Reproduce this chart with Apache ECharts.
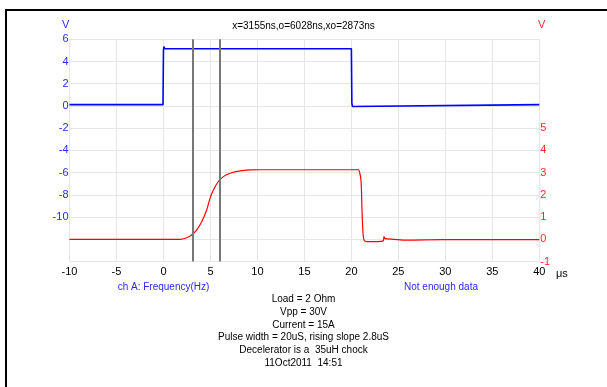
<!DOCTYPE html>
<html><head><meta charset="utf-8">
<script src="https://cdn.jsdelivr.net/npm/echarts@6/dist/echarts.min.js"></script>
<style>html,body{margin:0;padding:0;background:#fff}#c{width:607px;height:387px}</style>
</head><body><div id="c"></div>
<script>
// Time axis (µs)
const xTicks = [-10, -5, 0, 5, 10, 15, 20, 25, 30, 35, 40];
const leftTicks = [6, 4, 2, 0, -2, -4, -6, -8, -10];
const rightTicks = [5, 4, 3, 2, 1, 0, -1];
// Channel A (blue, left axis V)
const blueX = [-10, -0.05, 0, 0.05, 0.15, 0.4, 20.0, 20.05, 20.1, 20.3, 40];
const blueY = [0.12, 0.12, 5.0, 5.35, 5.15, 5.15, 5.15, 0.3, -0.05, 0.12, 0.12];
// Channel B (red, right axis V)
const redX = [-10, 1.76, 2.47, 3.0, 3.54, 4.07, 4.6, 4.96, 5.31, 5.84, 6.38, 7.09, 8.16, 9.2, 10.3, 20.8, 20.87, 21.02, 21.13, 21.24, 21.37, 21.66, 23.37, 23.47, 23.6, 24.5, 25.9, 29.5, 40];
const redY = [0.0, 0.0, 0.07, 0.19, 0.42, 0.79, 1.32, 1.85, 2.22, 2.6, 2.82, 2.97, 3.08, 3.12, 3.13, 3.13, 3.12, 2.67, 1.32, 0.27, -0.06, -0.11, -0.08, 0.12, 0.03, 0.0, -0.04, -0.02, -0.02];
// Cursors
const cursors = [3.155, 6.028];
const titleText = 'x=3155ns,o=6028ns,xo=2873ns';
const notes = ['Load = 2 Ohm', 'Vpp = 30V', 'Current = 15A', 'Pulse width = 20uS, rising slope 2.8uS', 'Decelerator is a  35uH chock', '11Oct2011  14:51'];

const FONT = 'Liberation Sans, Arial, sans-serif';
const zip = (a, b) => a.map((v, i) => [v, b[i]]);
const chart = echarts.init(document.getElementById('c'), null, {renderer: 'canvas'});
const noteGraphics = notes.map((t, i) => ({
  type: 'text', left: 'center', top: 294 + i * 12.9,
  style: {text: t, font: '10px ' + FONT, fill: '#000', textAlign: 'center'}
}));
chart.setOption({
  animation: false,
  backgroundColor: '#fff',
  grid: {left: 69.5, top: 39.3, width: 469.8, height: 222.2, containLabel: false},
  xAxis: {
    type: 'value', min: -10, max: 40, interval: 5,
    axisLine: {show: false}, axisTick: {show: false},
    axisLabel: {color: '#000', fontSize: 11, fontFamily: FONT, margin: 5},
    splitLine: {show: true, lineStyle: {color: '#e6e6e6', width: 1}}
  },
  yAxis: [{
    type: 'value', min: -14, max: 6, interval: 2, position: 'left',
    axisLine: {show: false}, axisTick: {show: false},
    axisLabel: {color: '#2a2aff', fontSize: 11, fontFamily: FONT, margin: 1,
      formatter: v => leftTicks.includes(v) ? String(v) : ''},
    splitLine: {show: true, lineStyle: {color: '#e6e6e6', width: 1}}
  }, {
    type: 'value', min: -1, max: 9, interval: 1, position: 'right',
    axisLine: {show: false}, axisTick: {show: false},
    axisLabel: {color: '#ff2a2a', fontSize: 11, fontFamily: FONT, margin: 1,
      formatter: v => rightTicks.includes(v) ? String(v) : ''},
    splitLine: {show: false}
  }],
  series: [{
    type: 'line', yAxisIndex: 1, data: zip(redX, redY), showSymbol: false, smooth: 0.3,
    lineStyle: {color: '#ff0000', width: 1.2}, z: 3,
    markLine: {silent: true, symbol: 'none', label: {show: false},
      lineStyle: {color: '#777', width: 2, type: 'solid'},
      data: cursors.map(c => ({xAxis: c}))}
  }, {
    type: 'line', yAxisIndex: 0, data: zip(blueX, blueY), showSymbol: false,
    lineStyle: {color: '#0000ff', width: 1.6}, z: 4
  }],
  graphic: [
    {type: 'line', shape: {x1: 5, y1: 10, x2: 607, y2: 10}, style: {stroke: '#000', lineWidth: 2}},
    {type: 'line', shape: {x1: 6, y1: 9, x2: 6, y2: 387}, style: {stroke: '#000', lineWidth: 2}},
    {type: 'text', left: 'center', top: 21, style: {text: titleText, font: '10px ' + FONT, fill: '#000'}},
    {type: 'text', left: 62, top: 19, style: {text: 'V', font: '11px ' + FONT, fill: '#2a2aff'}},
    {type: 'text', left: 538, top: 19, style: {text: 'V', font: '11px ' + FONT, fill: '#ff2a2a'}},
    {type: 'text', left: 556, top: 268, style: {text: 'μs', font: '11px ' + FONT, fill: '#000'}},
    {type: 'text', x: 163.5, y: 282, style: {text: 'ch A: Frequency(Hz)', font: '10px ' + FONT, fill: '#2a2aff', textAlign: 'center'}},
    {type: 'text', x: 441, y: 282, style: {text: 'Not enough data', font: '10px ' + FONT, fill: '#2a2aff', textAlign: 'center'}}
  ].concat(noteGraphics)
});
</script></body></html>
